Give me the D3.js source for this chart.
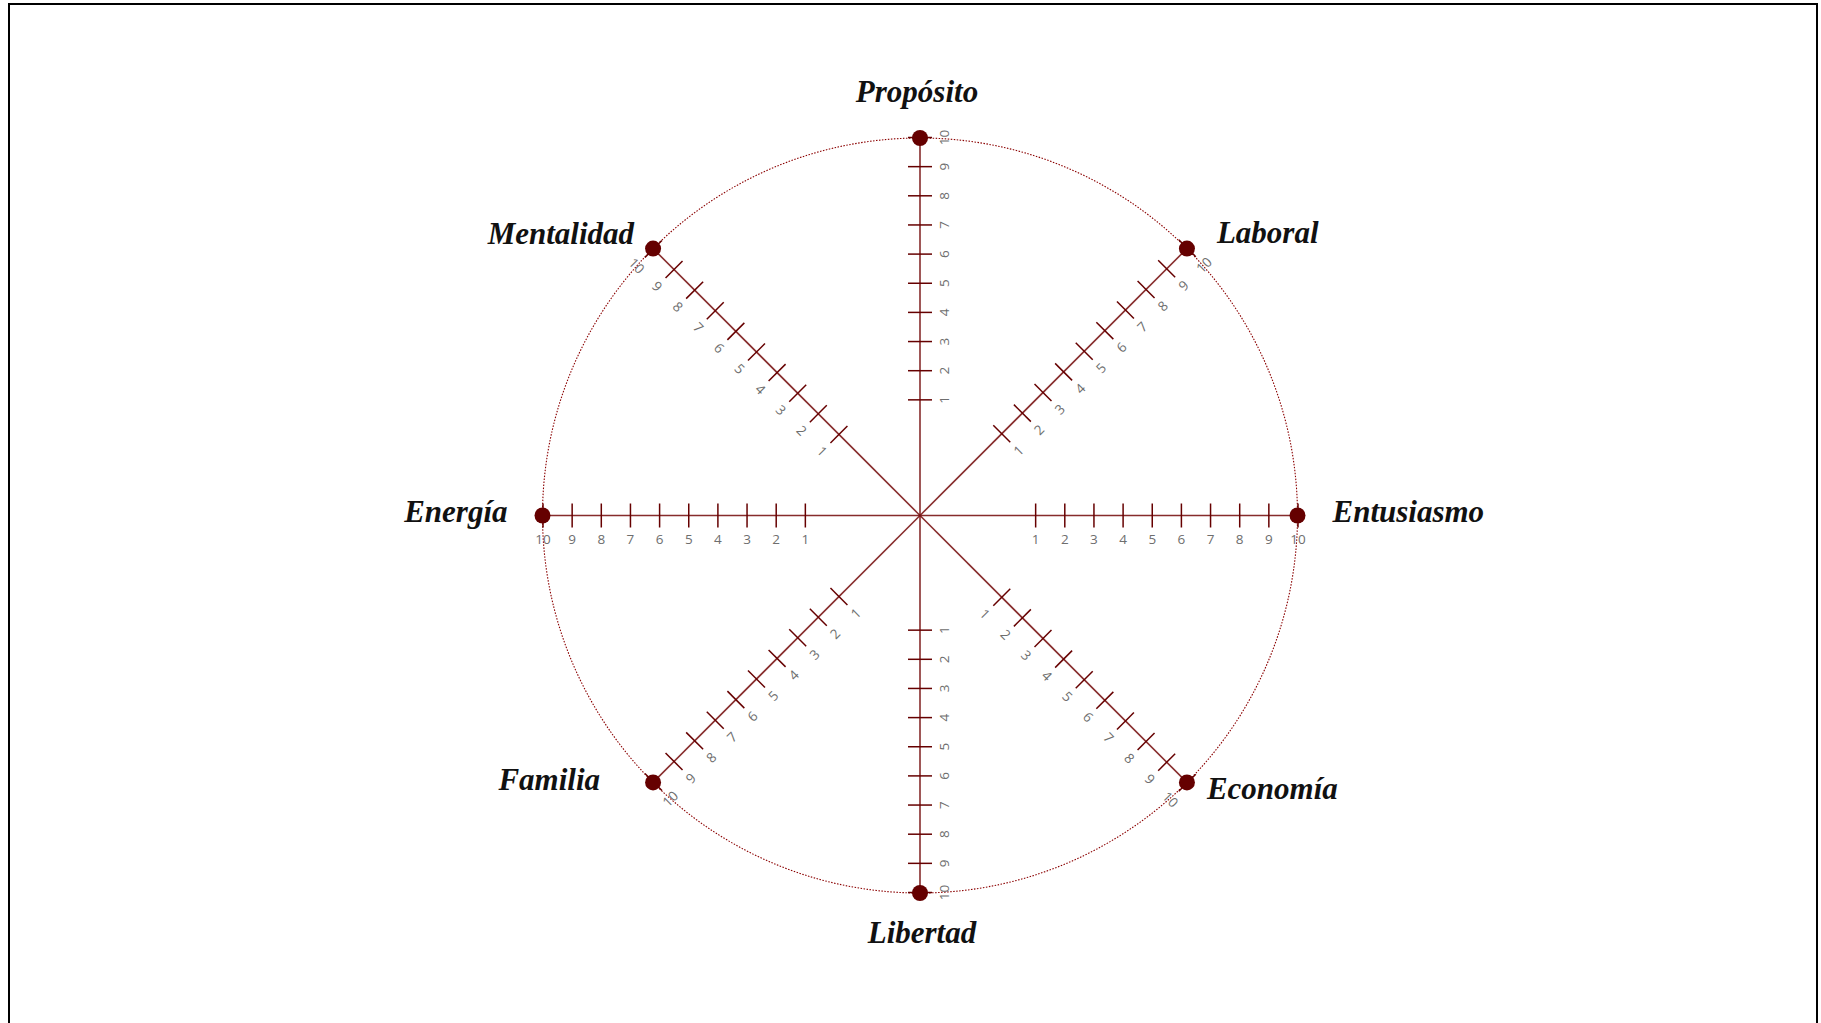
<!DOCTYPE html>
<html>
<head>
<meta charset="utf-8">
<script src="https://cdn.jsdelivr.net/npm/d3@7"></script>
<style>
  html, body { margin: 0; padding: 0; background: #fff; }
  svg { display: block; }
</style>
</head>
<body>
<div id="chart"></div>
<script>

  // wheel of life - 8 areas, each scored 1..10
  var categories = ["Entusiasmo", "Laboral", "Propósito", "Mentalidad", "Energía", "Familia", "Libertad", "Economía"];
  var angles = [0, -45, -90, -135, 180, 135, 90, 45];
  var tickValues = [1, 2, 3, 4, 5, 6, 7, 8, 9, 10];
  var maxScore = 10;

  var width = 1821, height = 1023;
  var cx = 920, cy = 515.5;
  var innerR = 86, outerR = 377.5;

  // where each area name sits relative to its end dot
  var labelLayout = [
    { dx: 35, dy: -4, anchor: "start" },
    { dx: 30, dy: -16, anchor: "start" },
    { dx: -3, dy: -47, anchor: "middle" },
    { dx: -19, dy: -15, anchor: "end" },
    { dx: -35, dy: -4, anchor: "end" },
    { dx: -53, dy: -3, anchor: "end" },
    { dx: 2, dy: 39, anchor: "middle" },
    { dx: 20, dy: 6, anchor: "start" }
  ];

  var svg = d3.select("#chart").append("svg")
    .attr("width", width)
    .attr("height", height);

  // frame
  svg.append("rect")
    .attr("x", 9).attr("y", 4)
    .attr("width", 1808).attr("height", 1040)
    .attr("fill", "none")
    .attr("stroke", "#000")
    .attr("stroke-width", 2);

  var radial = d3.scaleLinear().domain([0, maxScore]).range([innerR, outerR]);

  // dotted outer ring
  svg.append("circle")
    .attr("cx", cx).attr("cy", cy)
    .attr("r", radial(maxScore))
    .attr("fill", "none")
    .attr("stroke", "#8b0000")
    .attr("stroke-width", 1.1)
    .attr("stroke-dasharray", "1.5,1.5");

  categories.forEach(function(name, i) {
    var a = angles[i];
    var flip = false;
    if (a >= 90) { a = a - 180; flip = true; }
    else if (a < -90) { a = a + 180; flip = true; }

    var scale = d3.scaleLinear().domain([0, maxScore])
      .range(flip ? [-innerR, -outerR] : [innerR, outerR]);

    var g = svg.append("g")
      .attr("transform", "translate(" + cx + "," + cy + ") rotate(" + a + ")");

    g.append("line")
      .attr("x1", 0).attr("y1", 0)
      .attr("x2", scale(maxScore)).attr("y2", 0)
      .attr("stroke", "#7a1515")
      .attr("stroke-opacity", 0.9)
      .attr("stroke-width", 1.6);

    var axis = g.append("g")
      .call(d3.axisBottom(scale).tickValues(tickValues).tickSize(12).tickPadding(8));

    axis.select(".domain").remove();
    axis.selectAll(".tick line")
      .attr("y1", -12).attr("y2", 12)
      .attr("stroke", "#660000")
      .attr("stroke-width", 1.5);
    axis.selectAll(".tick text")
      .attr("y", 19)
      .attr("fill", "#6e6e6e")
      .style("font-family", "'Open Sans', sans-serif")
      .style("font-size", "13.5px");
  });

  // end dots
  var rad = Math.PI / 180;
  svg.selectAll(".end-dot")
    .data(categories)
    .enter()
    .append("circle")
    .attr("class", "end-dot")
    .attr("cx", function(d, i) { return cx + radial(maxScore) * Math.cos(angles[i] * rad); })
    .attr("cy", function(d, i) { return cy + radial(maxScore) * Math.sin(angles[i] * rad); })
    .attr("r", 8)
    .attr("fill", "#650000");

  // area names
  svg.selectAll(".area-label")
    .data(categories)
    .enter()
    .append("text")
    .attr("class", "area-label")
    .attr("x", function(d, i) { return cx + radial(maxScore) * Math.cos(angles[i] * rad) + labelLayout[i].dx; })
    .attr("y", function(d, i) { return cy + radial(maxScore) * Math.sin(angles[i] * rad) + labelLayout[i].dy; })
    .attr("text-anchor", function(d, i) { return labelLayout[i].anchor; })
    .attr("dominant-baseline", "central")
    .style("font-family", "'Liberation Serif', serif")
    .style("font-style", "italic")
    .style("font-weight", "bold")
    .style("font-size", "31px")
    .attr("fill", "#111")
    .text(function(d) { return d; });

</script>
</body>
</html>
